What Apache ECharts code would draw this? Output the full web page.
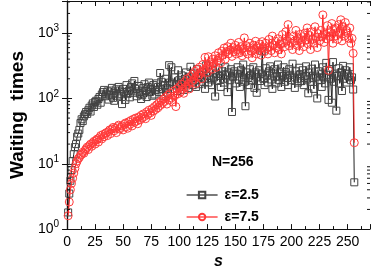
<!DOCTYPE html>
<html><head><meta charset="utf-8">
<script src="https://cdn.jsdelivr.net/npm/echarts@6/dist/echarts.min.js"></script>
<style>html,body{margin:0;padding:0;background:#fff}#c{width:374px;height:275px}</style>
</head><body><div id="c"></div>
<script>
const legendNames = ['ε=2.5', 'ε=7.5'];
const annotation = 'N=256';
const xTickLabels = [0, 25, 50, 75, 100, 125, 150, 175, 200, 225, 250];
const yTickLabels = [1, 10, 100, 1000];
const yMinorTicks = [2,3,4,5,6,7,8,9,20,30,40,50,60,70,80,90,200,300,400,500,600,700,800,900,2000,3000];

const eps25 = [
1.8, 3.5, 5.5, 8, 11, 14, 18, 20, 26, 29, 33, 42, 48, 45, 53, 57,
62, 58, 66, 72, 63, 78, 84, 74, 88, 92, 80, 98, 105, 86, 115, 125,
135, 108, 118, 128, 96, 112, 132, 145, 102, 92, 122, 138, 110, 150, 132, 116,
82, 140, 126, 95, 160, 118, 130, 104, 150, 170, 122, 185, 140, 108, 128, 155,
118, 98, 112, 145, 165, 130, 105, 150, 175, 125, 140, 110, 160, 115, 135, 170,
150, 125, 245, 180, 138, 110, 160, 200, 145, 120, 323, 175, 300, 140, 165, 210,
158, 130, 270, 190, 150, 225, 170, 135, 200, 250, 180, 145, 215, 305, 175, 160,
240, 190, 150, 280, 210, 165, 230, 180, 255, 200, 140, 320, 220, 175, 250, 195,
160, 270, 210, 107, 240, 185, 290, 220, 150, 260, 200, 175, 300, 230, 125, 250,
190, 280, 62, 215, 260, 170, 240, 300, 195, 150, 270, 210, 330, 180, 76, 250,
205, 160, 280, 230, 190, 300, 145, 250, 122, 210, 270, 185, 240, 530, 200, 160,
290, 225, 175, 260, 310, 195, 140, 240, 280, 170, 215, 330, 190, 250, 150, 220,
300, 180, 255, 205, 160, 280, 230, 190, 340, 210, 145, 260, 200, 175, 295, 235,
185, 270, 160, 220, 310, 195, 120, 250, 180, 285, 205, 140, 330, 215, 100, 260,
190, 240, 150, 300, 210, 170, 350, 230, 95, 265, 200, 86, 360, 180, 240, 65,
220, 290, 170, 250, 130, 315, 200, 270, 175, 240, 218, 300, 190, 210, 137, 5.2
];
const eps75 = [
1.6, 2.6, 4.0, 5.0, 6.0, 7.2, 8.5, 10, 11, 12, 12.5, 13.5, 14, 15, 14.5, 16,
17, 18, 16.5, 19, 20, 18.5, 21, 22, 20, 23, 24, 21.5, 25, 27, 24, 28,
26, 29, 30, 27, 31, 33, 29, 34, 36, 32, 35, 30, 37, 39, 34, 36,
38, 33, 40, 42, 37, 35, 44, 40, 46, 38, 48, 43, 50, 45, 41, 52,
47, 55, 50, 58, 53, 49, 62, 57, 66, 60, 55, 70, 64, 75, 68, 80,
72, 86, 78, 92, 84, 98, 90, 105, 82, 112, 95, 120, 102, 88, 130, 110,
75, 140, 118, 150, 125, 165, 138, 120, 180, 150, 200, 165, 140, 215, 180, 235,
195, 260, 170, 280, 220, 300, 240, 200, 330, 270, 425, 290, 250, 435, 310, 360,
280, 400, 340, 450, 300, 380, 500, 420, 350, 530, 460, 590, 400, 520, 620, 480,
550, 700, 440, 600, 520, 650, 480, 560, 720, 500, 620, 450, 580, 845, 520, 640,
480, 600, 700, 530, 420, 650, 560, 750, 480, 620, 540, 680, 460, 740, 600, 520,
700, 580, 480, 800, 620, 540, 900, 660, 500, 750, 600, 820, 560, 680, 480, 950,
700, 620, 1050, 760, 1350, 640, 820, 700, 560, 900, 760, 1100, 650, 820, 540, 960,
720, 880, 620, 1000, 780, 1200, 680, 920, 560, 1050, 800, 700, 1250, 860, 600, 980,
760, 1100, 880, 1900, 720, 960, 820, 1300, 270, 1050, 880, 1400, 700, 1150, 900, 1200,
800, 1350, 1000, 1600, 760, 1250, 900, 1450, 1100, 1000, 830, 1200, 700, 830, 490, 21
];

const FONT = '"Liberation Sans", Arial, Helvetica, sans-serif';
const chart = echarts.init(document.getElementById('c'), null, {renderer: 'canvas'});
const toPairs = arr => arr.map((v, i) => [i + 1, v]);
const axisCol = '#111';

const xBase = {
  type: 'value', min: 0, max: 270, interval: 25,
  splitLine: {show: false},
  axisLine: {show: true, onZero: false, lineStyle: {color: axisCol, width: 1.2}},
  axisTick: {show: true, inside: true, length: 5, lineStyle: {color: axisCol}},
  minorTick: {show: true, splitNumber: 2, length: 3, lineStyle: {color: axisCol}},
  minorSplitLine: {show: false}
};
const yBase = {
  type: 'log', logBase: 10, min: 1, max: 3100,
  splitLine: {show: false},
  axisLine: {show: true, lineStyle: {color: axisCol, width: 1.2}},
  axisTick: {show: true, inside: true, length: 5, lineStyle: {color: axisCol}},
  minorTick: {show: false}
};

chart.setOption({
  animation: false,
  backgroundColor: '#fff',
  grid: {left: 46, right: 4, top: 1, bottom: 32, containLabel: false},
  xAxis: [
    Object.assign({}, xBase, {
      position: 'bottom',
      name: 's', nameLocation: 'middle', nameGap: 22,
      nameTextStyle: {fontFamily: FONT, fontSize: 16, fontWeight: 'bold', fontStyle: 'italic', color: '#000'},
      axisLabel: {margin: 6, fontFamily: FONT, fontSize: 14, color: '#000',
        formatter: v => xTickLabels.indexOf(v) >= 0 ? String(v) : ''}
    }),
    Object.assign({}, xBase, {position: 'top', axisLabel: {show: false}})
  ],
  yAxis: [
    Object.assign({}, yBase, {
      position: 'left',
      name: 'Waiting  times', nameLocation: 'middle', nameGap: 33, nameRotate: 90,
      nameTextStyle: {fontFamily: FONT, fontSize: 19, fontWeight: 'bold', color: '#000'},
      axisLabel: {margin: 8, fontFamily: FONT, color: '#000',
        formatter: v => {
          const k = yTickLabels.indexOf(Math.round(v));
          if (k < 0 || Math.abs(v - yTickLabels[k]) > 1e-6) return '';
          return '{b|10}{e|' + Math.round(Math.log10(v)) + '}';
        },
        rich: {
          b: {fontFamily: FONT, fontSize: 14, color: '#000'},
          e: {fontFamily: FONT, fontSize: 10, color: '#000', padding: [0, 0, 9, 0]}
        }
      }
    }),
    Object.assign({}, yBase, {position: 'right', axisLabel: {show: false}})
  ],
  legend: {
    data: legendNames,
    orient: 'vertical', left: 181, top: 183,
    itemWidth: 31, itemHeight: 8, itemGap: 8,
    lineStyle: {width: 1.2},
    textStyle: {fontFamily: FONT, fontSize: 14, fontWeight: 'bold', color: '#000', padding: [0, 0, 0, 2]}
  },
  graphic: [{
    type: 'text', left: 212, top: 155,
    style: {text: annotation, fontFamily: FONT, fontSize: 14, fontWeight: 'bold', fill: '#000'}
  }],
  series: [
    {
      name: legendNames[0], type: 'line', data: toPairs(eps25),
      xAxisIndex: 0, yAxisIndex: 0,
      symbol: 'rect', symbolSize: 7, showAllSymbol: true,
      lineStyle: {color: '#222', width: 1},
      itemStyle: {color: 'rgba(255,255,255,0)', borderColor: '#444', borderWidth: 1},
      z: 3
    },
    {
      name: legendNames[1], type: 'line', data: toPairs(eps75),
      xAxisIndex: 0, yAxisIndex: 0,
      symbol: 'circle', symbolSize: 8, showAllSymbol: true,
      lineStyle: {color: '#ff2020', width: 1},
      itemStyle: {color: 'rgba(255,255,255,0)', borderColor: '#ff3a3a', borderWidth: 1},
      z: 4
    },
    {
      type: 'custom', silent: true, xAxisIndex: 0, yAxisIndex: 0,
      data: yMinorTicks.map(v => [0, v]),
      renderItem: function (params, api) {
        const cs = params.coordSys;
        const y = api.coord([0, api.value(1)])[1];
        if (y < cs.y || y > cs.y + cs.height) return null;
        const st = {stroke: axisCol, lineWidth: 1};
        return {type: 'group', children: [
          {type: 'line', shape: {x1: cs.x, y1: y, x2: cs.x + 3, y2: y}, style: st},
          {type: 'line', shape: {x1: cs.x + cs.width - 3, y1: y, x2: cs.x + cs.width, y2: y}, style: st}
        ]};
      },
      z: 5
    }
  ]
});
</script></body></html>
